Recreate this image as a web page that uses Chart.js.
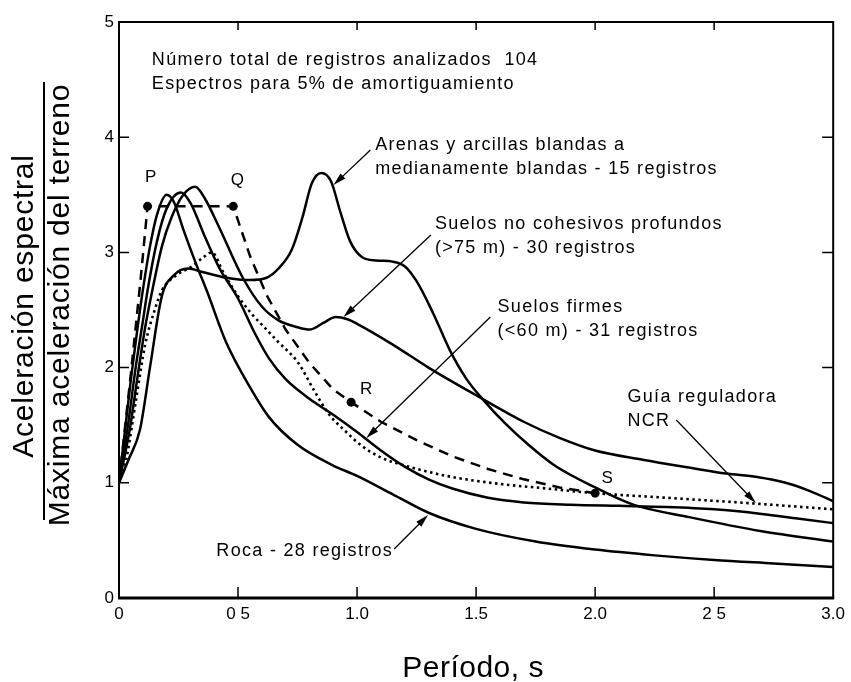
<!DOCTYPE html>
<html lang="es">
<head>
<meta charset="utf-8">
<title>Espectros de aceleración</title>
<script src="https://cdn.jsdelivr.net/npm/chart.js@4.4.1/dist/chart.umd.min.js"></script>
<style>
  html, body { margin: 0; padding: 0; background: #fff; }
  canvas { display: block; }
</style>
</head>
<body>
<canvas id="espectros" width="851" height="682"></canvas>
<script>
// periodo (s) / aceleración espectral normalizada, una pareja de listas por curva
const rocaT  = [0, 0.025, 0.05, 0.075, 0.1, 0.13, 0.16, 0.2, 0.23, 0.27, 0.32, 0.37, 0.45, 0.55, 0.63, 0.75, 0.9, 1.0, 1.15, 1.3, 1.5, 1.75, 2.0, 2.25, 2.5, 2.75, 3.0];
const rocaSa = [1.0, 1.45, 1.9, 2.3, 2.67, 3.05, 3.33, 3.5, 3.44, 3.2, 2.92, 2.66, 2.22, 1.83, 1.57, 1.33, 1.15, 1.06, 0.9, 0.74, 0.6, 0.49, 0.42, 0.37, 0.33, 0.3, 0.27];

const firmesT  = [0, 0.035, 0.07, 0.1, 0.12, 0.16, 0.2, 0.26, 0.3, 0.36, 0.42, 0.5, 0.57, 0.63, 0.7, 0.8, 0.9, 1.0, 1.1, 1.2, 1.3, 1.4, 1.55, 1.7, 1.9, 2.1, 2.3, 2.5, 2.7, 2.85, 3.0];
const firmesSa = [1.0, 1.46, 2.0, 2.4, 2.67, 3.1, 3.38, 3.52, 3.43, 3.14, 2.87, 2.6, 2.3, 2.08, 1.9, 1.73, 1.59, 1.44, 1.28, 1.14, 1.03, 0.95, 0.87, 0.83, 0.81, 0.8, 0.79, 0.77, 0.73, 0.69, 0.65];

const nocohT  = [0, 0.045, 0.08, 0.11, 0.14, 0.18, 0.22, 0.27, 0.32, 0.36, 0.42, 0.52, 0.6, 0.67, 0.75, 0.8, 0.86, 0.91, 0.96, 1.0, 1.15, 1.3, 1.5, 1.7, 1.85, 2.0, 2.2, 2.4, 2.55, 2.68, 2.8, 2.9, 3.0];
const nocohSa = [1.0, 1.46, 1.95, 2.35, 2.67, 3.05, 3.3, 3.5, 3.57, 3.47, 3.22, 2.78, 2.53, 2.41, 2.35, 2.33, 2.39, 2.44, 2.42, 2.38, 2.2, 2.0, 1.76, 1.53, 1.39, 1.28, 1.2, 1.13, 1.08, 1.05, 1.0, 0.93, 0.84];

const arenasT  = [0, 0.04, 0.088, 0.13, 0.18, 0.23, 0.29, 0.35, 0.45, 0.55, 0.62, 0.67, 0.725, 0.77, 0.81, 0.85, 0.89, 0.93, 0.97, 1.02, 1.08, 1.15, 1.2, 1.25, 1.32, 1.39, 1.46, 1.53, 1.62, 1.72, 1.83, 2.0, 2.16, 2.4, 2.7, 3.0];
const arenasSa = [1.0, 1.2, 1.46, 2.0, 2.62, 2.8, 2.86, 2.83, 2.78, 2.76, 2.78, 2.86, 3.02, 3.3, 3.6, 3.69, 3.62, 3.35, 3.1, 2.96, 2.93, 2.92, 2.88, 2.75, 2.47, 2.15, 1.9, 1.72, 1.52, 1.33, 1.15, 0.96, 0.81, 0.7, 0.58, 0.49];

const ncrT  = [0, 0.03, 0.07, 0.11, 0.15, 0.18, 0.24, 0.3, 0.35, 0.39, 0.44, 0.5, 0.56, 0.62, 0.67, 0.75, 0.82, 0.88, 0.95, 1.02, 1.1, 1.2, 1.27, 1.4, 1.6, 1.8, 2.0, 2.3, 2.67, 3.0];
const ncrSa = [1.0, 1.2, 1.7, 2.2, 2.5, 2.67, 2.8, 2.87, 2.95, 3.0, 2.82, 2.62, 2.46, 2.33, 2.22, 2.05, 1.8, 1.6, 1.45, 1.32, 1.22, 1.15, 1.11, 1.05, 0.99, 0.95, 0.91, 0.87, 0.82, 0.77];

// envolvente de trazos P-Q-R-S
const pqrsT  = [0, 0.05, 0.09, 0.12, 0.48, 0.55, 0.62, 0.7, 0.8, 0.9, 0.975, 1.1, 1.25, 1.4, 1.55, 1.7, 1.85, 2.0];
const pqrsSa = [1.0, 1.95, 2.75, 3.4, 3.4, 2.97, 2.63, 2.33, 2.04, 1.81, 1.7, 1.53, 1.37, 1.23, 1.12, 1.03, 0.96, 0.91];

const ptNames = ['P', 'Q', 'R', 'S'];
const ptT  = [0.12, 0.48, 0.975, 2.0];
const ptSa = [3.4, 3.4, 1.7, 0.91];

const xTickVals   = [0, 0.5, 1.0, 1.5, 2.0, 2.5, 3.0];
const xTickLabels = ['0', '0 5', '1.0', '1.5', '2.0', '2 5', '3.0'];
const yTickVals   = [0, 1, 2, 3, 4, 5];

const FONT = '"Liberation Sans", Arial, Helvetica, sans-serif';

// rótulos y flechas, anclados en coordenadas de los ejes
const notes = [
  { t: 0.138, sa: 4.627, lines: ['Número total de registros analizados  104', 'Espectros para 5% de amortiguamiento'] },
  { t: 1.076, sa: 3.889, lines: ['Arenas y arcillas blandas a', 'medianamente blandas - 15 registros'] },
  { t: 1.327, sa: 3.203, lines: ['Suelos no cohesivos profundos', '(>75 m) - 30 registros'] },
  { t: 1.59,  sa: 2.483, lines: ['Suelos firmes', '(<60 m) - 31 registros'] },
  { t: 2.136, sa: 1.701, lines: ['Guía reguladora', 'NCR'] },
  { t: 0.409, sa: 0.365, lines: ['Roca - 28 registros'] }
];
const leaders = [
  [1.056, 3.889, 0.901, 3.585],
  [1.31, 3.151, 0.943, 2.439],
  [1.56, 2.44, 1.039, 1.389],
  [2.341, 1.545, 2.675, 0.825],
  [1.156, 0.425, 1.298, 0.72]
];
const ptLabelDx = [3, 4, 15, 12];
const ptLabelDy = [-24, -21, -8, -10];

function pts(ts, vs) {
  return ts.map((t, i) => ({ x: t, y: vs[i] }));
}

function arrow(ctx, x1, y1, x2, y2) {
  const a = Math.atan2(y2 - y1, x2 - x1);
  const len = 13, half = 3.5;
  const c = Math.cos(a), s = Math.sin(a);
  ctx.beginPath();
  ctx.moveTo(x1, y1);
  ctx.lineTo(x2 - c * len * 0.8, y2 - s * len * 0.8);
  ctx.stroke();
  ctx.beginPath();
  ctx.moveTo(x2, y2);
  ctx.lineTo(x2 - len * c + half * s, y2 - len * s - half * c);
  ctx.lineTo(x2 - len * c - half * s, y2 - len * s + half * c);
  ctx.closePath();
  ctx.fill();
}

const decor = {
  id: 'decor',
  afterDraw(chart) {
    const { ctx, chartArea: a } = chart;
    const x = chart.scales.x, y = chart.scales.y;
    ctx.save();
    ctx.strokeStyle = '#000';
    ctx.fillStyle = '#000';

    // marco
    ctx.lineWidth = 2;
    ctx.beginPath();
    ctx.moveTo(a.left, a.bottom);
    ctx.lineTo(a.left, a.top);
    ctx.lineTo(a.right, a.top);
    ctx.lineTo(a.right, a.bottom);
    ctx.stroke();
    ctx.lineWidth = 3;
    ctx.beginPath();
    ctx.moveTo(a.left - 1, a.bottom);
    ctx.lineTo(a.right + 1, a.bottom);
    ctx.stroke();

    // marcas hacia dentro
    ctx.lineWidth = 1.5;
    ctx.beginPath();
    xTickVals.slice(1, -1).forEach(v => {
      const px = x.getPixelForValue(v);
      ctx.moveTo(px, a.bottom); ctx.lineTo(px, a.bottom - 11);
      ctx.moveTo(px, a.top); ctx.lineTo(px, a.top + 8);
    });
    yTickVals.slice(1, -1).forEach(v => {
      const py = y.getPixelForValue(v);
      ctx.moveTo(a.left, py); ctx.lineTo(a.left + 10, py);
      ctx.moveTo(a.right, py); ctx.lineTo(a.right - 11, py);
    });
    ctx.stroke();

    // rótulos
    ctx.textAlign = 'left';
    ctx.textBaseline = 'alphabetic';
    ctx.font = '18px ' + FONT;
    ctx.letterSpacing = '1.3px';
    notes.forEach(n => {
      const px = x.getPixelForValue(n.t), py = y.getPixelForValue(n.sa);
      n.lines.forEach((l, i) => ctx.fillText(l, px, py + i * 24));
    });

    ctx.lineWidth = 1.3;
    leaders.forEach(l => arrow(ctx,
      x.getPixelForValue(l[0]), y.getPixelForValue(l[1]),
      x.getPixelForValue(l[2]), y.getPixelForValue(l[3])));

    ctx.font = '17px ' + FONT;
    ctx.letterSpacing = '0px';
    ctx.textAlign = 'center';
    ptNames.forEach((n, i) => {
      ctx.fillText(n, x.getPixelForValue(ptT[i]) + ptLabelDx[i], y.getPixelForValue(ptSa[i]) + ptLabelDy[i]);
    });

    // títulos de los ejes
    ctx.font = '30px ' + FONT;
    ctx.letterSpacing = '0.5px';
    ctx.fillText('Período, s', (a.left + a.right) / 2 - 3, 677);

    ctx.letterSpacing = '0.8px';
    ctx.save();
    ctx.translate(33, 306);
    ctx.rotate(-Math.PI / 2);
    ctx.fillText('Aceleración espectral', 0, 0);
    ctx.restore();
    ctx.save();
    ctx.translate(69, 305);
    ctx.rotate(-Math.PI / 2);
    ctx.fillText('Máxima aceleración del terreno', 0, 0);
    ctx.restore();
    ctx.lineWidth = 2;
    ctx.beginPath();
    ctx.moveTo(44, 82);
    ctx.lineTo(44, 520);
    ctx.stroke();

    ctx.restore();
  }
};

const solid = { borderColor: '#000', borderWidth: 2.5, pointRadius: 0, fill: false, cubicInterpolationMode: 'monotone' };

new Chart(document.getElementById('espectros'), {
  type: 'line',
  data: {
    datasets: [
      { ...solid, label: 'Roca', data: pts(rocaT, rocaSa) },
      { ...solid, label: 'Suelos firmes', data: pts(firmesT, firmesSa) },
      { ...solid, label: 'Suelos no cohesivos profundos', data: pts(nocohT, nocohSa) },
      { ...solid, label: 'Arenas y arcillas blandas', data: pts(arenasT, arenasSa) },
      { ...solid, label: 'Guía reguladora NCR', data: pts(ncrT, ncrSa), borderWidth: 2.6, borderDash: [2.5, 3.5] },
      { label: 'P-Q-R-S', data: pts(pqrsT, pqrsSa), borderColor: '#000', borderWidth: 2.5, borderDash: [10, 7], tension: 0, pointRadius: 0, fill: false },
      { label: 'puntos', data: pts(ptT, ptSa), showLine: false, pointRadius: 4.5, pointBackgroundColor: '#000', pointBorderWidth: 0 }
    ]
  },
  options: {
    responsive: false,
    animation: false,
    layout: { padding: { top: 22, right: 13, left: 0, bottom: 0 } },
    plugins: { legend: { display: false }, tooltip: { enabled: false } },
    scales: {
      x: {
        type: 'linear', min: 0, max: 3,
        afterBuildTicks: s => { s.ticks = xTickVals.map(v => ({ value: v })); },
        afterFit: s => { s.height = 84; },
        grid: { display: false, drawTicks: false },
        border: { display: false },
        ticks: {
          color: '#000', padding: 6, maxRotation: 0, autoSkip: false,
          font: { family: FONT, size: 17 },
          callback: (v, i) => xTickLabels[i]
        }
      },
      y: {
        type: 'linear', min: 0, max: 5,
        afterBuildTicks: s => { s.ticks = yTickVals.map(v => ({ value: v })); },
        afterFit: s => { s.width = 119; },
        grid: { display: false, drawTicks: false },
        border: { display: false },
        ticks: {
          color: '#000', padding: 5,
          font: { family: FONT, size: 17 },
          callback: v => String(v)
        }
      }
    }
  },
  plugins: [decor]
});
</script>
</body>
</html>
